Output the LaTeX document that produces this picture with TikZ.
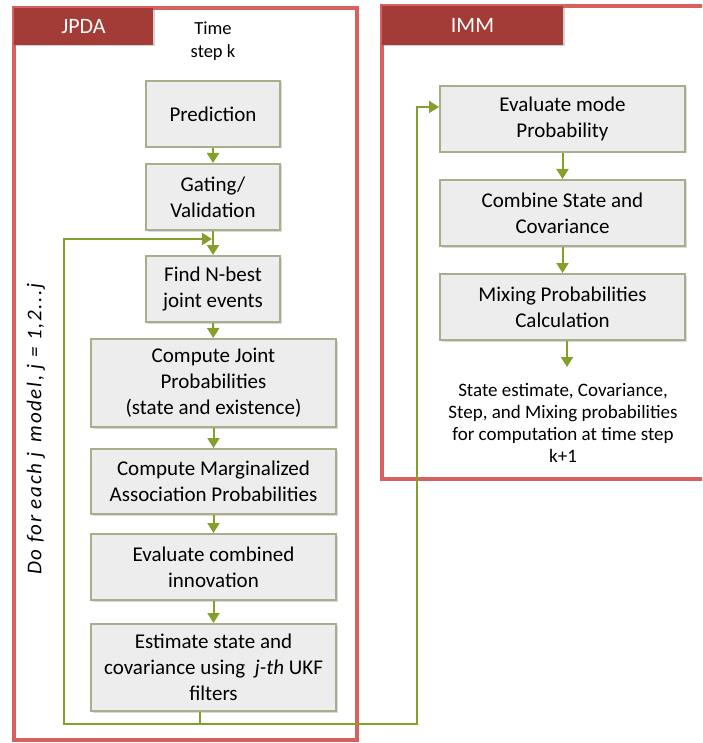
\documentclass[tikz,border=0pt]{standalone}
\usepackage{fontspec}
\setmainfont{Carlito}
\usetikzlibrary{arrows.meta,shadows}
\definecolor{framered}{HTML}{D8605F}
\definecolor{headred}{HTML}{A33B36}
\definecolor{flowgreen}{HTML}{82A02A}
\definecolor{boxedge}{HTML}{A6AE8C}
\definecolor{boxfill}{HTML}{EDEDED}
\tikzset{
  frame/.style={draw=framered, line width=3.5pt},
  header/.style={fill=headred, draw=none, text=white, font=\fontsize{22}{26}\selectfont,
    drop shadow={shadow xshift=1.5pt, shadow yshift=-1.5pt, opacity=0.35}},
  stepbox/.style={draw=boxedge, line width=2pt, align=center, inner sep=2pt,
    fill=boxfill,
    drop shadow={shadow xshift=1.5pt, shadow yshift=-1.5pt, opacity=0.3},
    font=\fontsize{21}{26}\selectfont},
  flow/.style={draw=flowgreen, line width=2pt},
  arr/.style={flow, -{Triangle[length=10pt,width=12pt]}},
}
\begin{document}
\begin{tikzpicture}[x=1pt,y=-1pt]
\useasboundingbox (0,0) rectangle (702,743);
\begin{scope}
\clip (0,0) rectangle (702,743);
% outer frames
\draw[frame] (14,8) rectangle (357,740);
\draw[frame] (382,6) rectangle (715,479);
\end{scope}
% frame headers
\node[header, minimum width=139pt, minimum height=37pt] (jpdahead) at (83.5,26.5) {JPDA};
\node[header, minimum width=181pt, minimum height=39pt] (immhead) at (472.5,25.5) {IMM};

\node[align=center, font=\fontsize{18.5}{23}\selectfont] (time) at (213,41.5) {Time\\step k};

% JPDA steps
\node[stepbox, minimum width=134pt, minimum height=66pt] (pred) at (213,114) {Prediction};
\node[stepbox, minimum width=134pt, minimum height=66pt] (gate) at (213,197) {Gating/\\Validation};
\node[stepbox, minimum width=134pt, minimum height=66pt] (find) at (213,289) {Find N-best\\joint events};
\node[stepbox, minimum width=245pt, minimum height=88pt] (joint) at (213.5,383) {Compute Joint\\Probabilities\\(state and existence)};
\node[stepbox, minimum width=245pt, minimum height=65pt] (marg) at (213.5,481.5) {Compute Marginalized\\Association Probabilities};
\node[stepbox, minimum width=245pt, minimum height=66pt] (innov) at (213.5,567) {Evaluate combined\\innovation};
\node[stepbox, minimum width=245pt, minimum height=87pt] (est) at (213.5,667.5) {Estimate state and\\covariance using \ \textit{j-th} UKF\\filters};

% IMM steps
\node[stepbox, minimum width=245pt, minimum height=66pt] (mode) at (562.5,119) {Evaluate mode\\Probability};
\node[stepbox, minimum width=245pt, minimum height=66pt] (comb) at (562.5,213) {Combine State and\\Covariance};
\node[stepbox, minimum width=245pt, minimum height=66pt] (mix) at (562.5,307) {Mixing Probabilities\\Calculation};

\node[align=center, font=\fontsize{19}{22}\selectfont] (result) at (563,423)
  {State estimate, Covariance,\\Step, and Mixing probabilities\\for computation at time step\\k+1};

\node[rotate=90, font=\fontsize{21}{25}\selectfont\itshape\addfontfeatures{LetterSpace=8}] (loopnote) at (36,429)
  {Do for each j\, model, j = 1,2...j};

% connection points of the loops
\coordinate (split) at (200,724);
\coordinate (lowleft) at (64,724);
\coordinate (upleft) at (64,239);
\coordinate (entry) at (212,239);
\coordinate (lowright) at (417,724);
\coordinate (upright) at (417,107);
\coordinate (mixout) at (567,367);

% main flow
\draw[arr] (pred) -- (gate);
\draw[arr] (gate) -- (find);
\draw[arr] (find) -- (joint);
\draw[arr] (joint) -- (marg);
\draw[arr] (marg) -- (innov);
\draw[arr] (innov) -- (est);
\draw[arr] (mode) -- (comb);
\draw[arr] (comb) -- (mix);
\draw[arr] (mix.south -| mixout) -- (mixout);

% loops back to the association and forward to IMM
\draw[flow] (est.south -| split) -- (split);
\draw[arr] (split) -- (lowleft) -- (upleft) -- (entry);
\draw[arr] (split) -- (lowright) -- (upright) -- (upright -| mode.west);
\end{tikzpicture}
\end{document}
